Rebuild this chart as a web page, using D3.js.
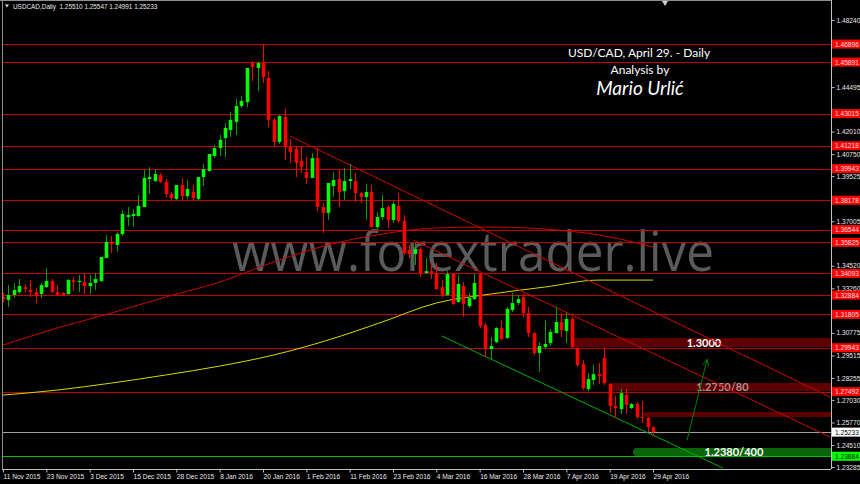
<!DOCTYPE html>
<html><head><meta charset="utf-8">
<script src="https://cdn.jsdelivr.net/npm/d3@7"></script>
<style>body{margin:0;background:#000}svg{display:block}</style>
</head><body><svg id="c" width="860" height="484"></svg>
<script>
// ---------- DATA ----------
const dateLabels = ["11 Nov 2015","23 Nov 2015","3 Dec 2015","15 Dec 2015","28 Dec 2015","8 Jan 2016","20 Jan 2016","1 Feb 2016","11 Feb 2016","23 Feb 2016","4 Mar 2016","16 Mar 2016","28 Mar 2016","7 Apr 2016","19 Apr 2016","29 Apr 2016"];
const dateLabelBars = [0,8,16,24,32,40,48,56,64,72,80,88,96,104,112,120];
// visible price tick labels (the ones covered by level labels are drawn as tick marks only)
const priceTicks = [1.48240,1.44495,1.42010,1.40750,1.39525,1.37005,1.34520,1.33260,1.30775,1.29515,1.28255,1.27030,1.25770,1.24510,1.23285];
const hiddenTicks = [1.46985,1.45740,1.43250,1.38265,1.35765,1.32020];

const open = [1.3277,1.3261,1.3289,1.3305,1.3333,1.3317,1.3305,1.3294,1.3333,1.3367,1.3305,1.3300,1.3294,1.3372,1.3361,1.3361,1.3339,1.3356,1.3367,1.3495,
1.3585,1.3568,1.3629,1.3724,1.3730,1.3730,1.3780,1.3936,1.3925,1.3959,1.3920,1.3853,1.3825,1.3903,1.3841,1.3864,1.3825,1.3947,1.3981,1.4065,
1.4109,1.4165,1.4210,1.4255,1.4344,1.4366,1.4584,1.4556,1.4584,1.4500,1.4266,1.4143,1.4283,1.4115,1.4104,1.4037,1.3975,1.3942,1.4053,1.3780,
1.3747,1.3897,1.3936,1.3869,1.3925,1.3925,1.3858,1.3836,1.3864,1.3668,1.3724,1.3780,1.3708,1.3786,1.3702,1.3540,1.3518,1.3545,1.3411,1.3422,
1.3411,1.3333,1.3289,1.3406,1.3250,1.3339,1.3227,1.3266,1.3406,1.3121,1.2987,1.3026,1.3104,1.3049,1.3205,1.3244,1.3277,1.3188,1.3076,1.2965,
1.2998,1.3020,1.3076,1.3138,1.3088,1.3155,1.2993,1.2903,1.2764,1.2814,1.2847,1.2937,1.2792,1.2669,1.2652,1.2730,1.2658,1.2680,1.2608,1.2602,
1.25510];
const high = [1.3300,1.3344,1.3356,1.3378,1.3350,1.3372,1.3328,1.3356,1.3439,1.3378,1.3344,1.3305,1.3378,1.3389,1.3400,1.3411,1.3400,1.3411,1.3501,1.3624,
1.3618,1.3640,1.3763,1.3780,1.3769,1.3847,1.3987,1.4003,1.3992,1.3970,1.3936,1.3864,1.3903,1.3942,1.3931,1.3903,1.3947,1.4020,1.4076,1.4126,
1.4182,1.4249,1.4310,1.4383,1.4400,1.4556,1.4595,1.4590,1.4690,1.4539,1.4277,1.4294,1.4327,1.4160,1.4121,1.4115,1.4059,1.4081,1.4109,1.3802,
1.3914,1.3975,1.3987,1.3998,1.4020,1.3970,1.3864,1.3908,1.3903,1.3752,1.3847,1.3791,1.3813,1.3858,1.3735,1.3568,1.3579,1.3557,1.3495,1.3467,
1.3467,1.3372,1.3422,1.3411,1.3400,1.3361,1.3300,1.3406,1.3411,1.3132,1.3054,1.3110,1.3149,1.3222,1.3300,1.3289,1.3294,1.3222,1.3082,1.3026,
1.3149,1.3099,1.3222,1.3188,1.3188,1.3166,1.2998,1.2926,1.2853,1.2898,1.2909,1.2998,1.2797,1.2725,1.2764,1.2764,1.2686,1.2691,1.2697,1.2608,
1.25547];
const low = [1.3250,1.3222,1.3272,1.3294,1.3305,1.3277,1.3244,1.3272,1.3328,1.3300,1.3283,1.3283,1.3289,1.3311,1.3305,1.3294,1.3294,1.3317,1.3361,1.3495,
1.3523,1.3529,1.3618,1.3674,1.3668,1.3724,1.3780,1.3853,1.3920,1.3914,1.3836,1.3819,1.3819,1.3813,1.3825,1.3819,1.3819,1.3897,1.3975,1.4053,
1.4065,1.4059,1.4171,1.4182,1.4333,1.4338,1.4483,1.4428,1.4472,1.4227,1.4115,1.4132,1.4042,1.4026,1.3947,1.3970,1.3908,1.3942,1.3758,1.3635,
1.3708,1.3836,1.3780,1.3819,1.3880,1.3808,1.3802,1.3708,1.3668,1.3652,1.3708,1.3663,1.3691,1.3691,1.3512,1.3495,1.3456,1.3389,1.3411,1.3378,
1.3317,1.3277,1.3283,1.3233,1.3244,1.3166,1.3216,1.3261,1.3104,1.2943,1.2931,1.3020,1.3037,1.3043,1.3194,1.3233,1.3166,1.3054,1.2954,1.2859,
1.2987,1.3004,1.3076,1.3054,1.3020,1.2993,1.2887,1.2758,1.2752,1.2786,1.2792,1.2786,1.2630,1.2602,1.2624,1.2624,1.2652,1.2597,1.2574,1.2524,
1.24991];
const close = [1.3266,1.3289,1.3317,1.3339,1.3322,1.3305,1.3283,1.3344,1.3367,1.3305,1.3289,1.3289,1.3372,1.3361,1.3367,1.3339,1.3356,1.3378,1.3501,1.3585,
1.3573,1.3629,1.3741,1.3735,1.3741,1.3786,1.3942,1.3947,1.3964,1.3920,1.3853,1.3830,1.3903,1.3841,1.3880,1.3830,1.3947,1.3992,1.4076,1.4109,
1.4154,1.4221,1.4266,1.4344,1.4372,1.4556,1.4562,1.4584,1.4506,1.4266,1.4143,1.4288,1.4115,1.4087,1.4026,1.4003,1.3942,1.4053,1.3780,1.3747,
1.3914,1.3931,1.3864,1.3925,1.3936,1.3858,1.3836,1.3864,1.3668,1.3724,1.3774,1.3708,1.3797,1.3702,1.3523,1.3518,1.3545,1.3411,1.3422,1.3411,
1.3322,1.3289,1.3406,1.3239,1.3350,1.3239,1.3272,1.3356,1.3115,1.2987,1.3004,1.3104,1.3043,1.3211,1.3244,1.3266,1.3188,1.3076,1.2965,1.3004,
1.3015,1.3082,1.3138,1.3093,1.3155,1.2998,1.2898,1.2769,1.2819,1.2847,1.2836,1.2797,1.2669,1.2658,1.2741,1.2675,1.2680,1.2608,1.2602,1.2551,
1.25233];

// moving averages sampled every 10 bars
const maBars   = [0,10,20,30,40,50,60,70,80,90,100,110,120];
const maRed    = [1.3009,1.3104,1.3188,1.3277,1.3361,1.3473,1.3568,1.3629,1.3663,1.3668,1.3657,1.3624,1.3557];
const maYellow = [1.2730,1.2758,1.2797,1.2842,1.2892,1.2954,1.3037,1.3138,1.3244,1.3294,1.3333,1.3372,1.3372];

// horizontal levels
const redLevels = [1.46896,1.45891,1.43015,1.41218,1.39943,1.38178,1.36544,1.35825,1.34093,1.32884,1.31805,1.29943,1.27492];
const greenLevel = 1.23884;
const bidLevel = 1.25233;

// trend lines [bar1, price1, bar2, price2]
const upperRed = [53.0,1.4176,152.7,1.2719];
const lowerRed = [75.7,1.3596,152.7,1.2496];
const greenTrend = [81.0,1.3060,132.9,1.2323];
const arrowLine = [126.3,1.2479,130.0,1.2930];

// zones: [startBar, topPrice, bottomPrice, label]
const zoneRed1 = [105.2,1.3049,1.2998,"1.3000"];
const zoneRed2 = [112.0,1.2797,1.2752,"1.2750/80"];
const zoneRed3 = [118.2,1.2635,1.2608,""];
const zoneGreen = [116.3,1.2434,1.2390,"1.2380/400"];

// ---------- DRAW ----------
const svg = d3.select("#c");
const plotL = 3, plotR = 831, plotT = 1, plotB = 469;
const x = d3.scaleLinear().domain([0,120]).range([3,653]);
const y = d3.scaleLinear().domain([1.23285,1.48240]).range([467,20]);
const axisFont = "Liberation Sans, Arial, sans-serif";

svg.append("rect").attr("width",860).attr("height",484).attr("fill","#000");
svg.append("defs").append("clipPath").attr("id","clip").append("rect")
  .attr("x",plotL).attr("y",plotT).attr("width",plotR-plotL).attr("height",plotB-plotT);
const g = svg.append("g").attr("clip-path","url(#clip)");

// watermark
g.append("text").attr("x",232).attr("y",271).text("www.forextrader.live")
  .attr("font-family","Open Sans, sans-serif").attr("font-size",55)
  .attr("textLength",482).attr("lengthAdjust","spacingAndGlyphs")
  .attr("fill","#7a7a7a").attr("fill-opacity",0.75);

// zones
function zone(z, fill, textFill){
  const x0 = x(z[0]), y0 = y(z[1]), y1 = y(z[2]);
  g.append("rect").attr("x",x0).attr("y",y0).attr("width",plotR+6-x0).attr("height",y1-y0)
    .attr("rx",4).attr("fill",fill);
  if (z[3]) g.append("text").attr("x",(x0+plotR)/2+2).attr("y",(y0+y1)/2+4).text(z[3])
    .attr("text-anchor","middle").attr("font-family","Lato, sans-serif").attr("font-weight","bold")
    .attr("font-size",11).attr("fill",textFill);
}
zone(zoneRed1,"#5e0000","#ffffff");
zone(zoneRed2,"#5e0000","#b89090");
zone(zoneRed3,"#5e0000","#fff");
zone(zoneGreen,"#0a640a","#ffffff");

// horizontal lines
redLevels.forEach(p=>{
  g.append("line").attr("x1",plotL).attr("x2",plotR).attr("y1",Math.round(y(p))+0.5).attr("y2",Math.round(y(p))+0.5)
   .attr("stroke","#c00000").attr("stroke-width",1);
});
g.append("line").attr("x1",plotL).attr("x2",plotR).attr("y1",Math.round(y(bidLevel))+0.5).attr("y2",Math.round(y(bidLevel))+0.5)
  .attr("stroke","#a0a0a0");
g.append("line").attr("x1",plotL).attr("x2",plotR).attr("y1",Math.round(y(greenLevel))+0.5).attr("y2",Math.round(y(greenLevel))+0.5)
  .attr("stroke","#00c000");

// moving averages
const maLine = d3.line().x((d,i)=>x(maBars[i])).y(d=>y(d)).curve(d3.curveMonotoneX);
g.append("path").attr("d",maLine(maRed)).attr("fill","none").attr("stroke","#d00000").attr("stroke-width",1);
g.append("path").attr("d",maLine(maYellow)).attr("fill","none").attr("stroke","#d8d800").attr("stroke-width",1);

// trend lines
function tline(t,color,w){
  g.append("line").attr("x1",x(t[0])).attr("y1",y(t[1])).attr("x2",x(t[2])).attr("y2",y(t[3]))
   .attr("stroke",color).attr("stroke-width",w||1);
}
tline(upperRed,"#d00000");
tline(lowerRed,"#d00000");
tline(greenTrend,"#00b000");
tline(arrowLine,"#008000");
// arrowhead at the top of the arrow line
{
  const x1 = x(arrowLine[0]), y1 = y(arrowLine[1]), x2 = x(arrowLine[2]), y2 = y(arrowLine[3]);
  const ang = Math.atan2(y2-y1, x2-x1), L = 7;
  [0.45,-0.45].forEach(a=>{
    g.append("line").attr("x1",x2).attr("y1",y2)
      .attr("x2",x2 - L*Math.cos(ang+a)).attr("y2",y2 - L*Math.sin(ang+a))
      .attr("stroke","#008000");
  });
}

// candles
const bw = 3.6;
open.forEach((o,i)=>{
  const c = close[i], up = c >= o;
  const cx = Math.round(x(i))+0.5;
  g.append("line").attr("x1",cx).attr("x2",cx).attr("y1",y(high[i])).attr("y2",y(low[i]))
    .attr("stroke", up ? "#00a000" : "#ff0000");
  const yt = y(Math.max(o,c)), yb = y(Math.min(o,c));
  g.append("rect").attr("x",cx-bw/2).attr("y",yt).attr("width",bw).attr("height",Math.max(1,yb-yt))
    .attr("fill", up ? "#00ff00" : "#ff0000");
});

// frame
svg.append("line").attr("x1",2.5).attr("x2",2.5).attr("y1",0).attr("y2",plotB).attr("stroke","#909090");
svg.append("line").attr("x1",0).attr("x2",plotR).attr("y1",0.5).attr("y2",0.5).attr("stroke","#909090");
// chart-shift marker
svg.append("path").attr("d","M662,1L668,1L665,6Z").attr("fill","#d0d0d0");

// right axis
const ya = d3.axisRight(y).tickValues(priceTicks.concat(hiddenTicks)).tickSize(3)
  .tickFormat(d => priceTicks.includes(d) ? d3.format(".5f")(d) : "");
const yg = svg.append("g").attr("transform",`translate(${plotR+0.5},0)`).call(ya);
yg.select(".domain").attr("stroke","#c0c0c0").attr("d",`M0,0V${plotB}`);
yg.selectAll(".tick line").attr("stroke","#c0c0c0");
yg.selectAll("text").attr("fill","#e8e8e8").attr("font-family",axisFont).attr("font-size",6.6).attr("x",5);

// bottom axis
const xa = d3.axisBottom(x).tickValues(dateLabelBars).tickSize(3).tickFormat((d,i)=>dateLabels[i]);
const xg = svg.append("g").attr("transform",`translate(0,${plotB+0.5})`).call(xa);
xg.select(".domain").attr("stroke","#c0c0c0").attr("d",`M2,0H${plotR}`);
xg.selectAll(".tick line").attr("stroke","#c0c0c0");
xg.selectAll("text").attr("fill","#e8e8e8").attr("font-family",axisFont).attr("font-size",6.6)
  .attr("text-anchor","start").attr("x",0).attr("y",5).attr("dy","0.71em");

// right price labels
function priceLabel(p, bg, fg){
  const yy = y(p);
  svg.append("rect").attr("x",plotR+1).attr("y",yy-4.5).attr("width",29).attr("height",9).attr("fill",bg);
  svg.append("text").attr("x",plotR+4).attr("y",yy+2.5).text(p.toFixed(5))
    .attr("font-family",axisFont).attr("font-size",6.6).attr("fill",fg);
}
redLevels.forEach(p=>priceLabel(p,"#ff0000","#ffe0e0"));
priceLabel(bidLevel,"#ffffff","#000000");
priceLabel(greenLevel,"#00ff00","#000000");

// header
svg.append("path").attr("d","M5,4.5L9,4.5L7,7.5Z").attr("fill","#e0e0e0");
svg.append("text").attr("x",13).attr("y",9).text("USDCAD,Daily  1.25510 1.25547 1.24991 1.25233")
  .attr("font-family",axisFont).attr("font-size",6.4).attr("fill","#e8e8e8").attr("xml:space","preserve");

// title
const tFont = "Lato, Open Sans, sans-serif";
svg.append("text").attr("x",639).attr("y",57).attr("text-anchor","middle").text("USD/CAD, April 29. - Daily")
  .attr("font-family",tFont).attr("font-size",12).attr("fill","#fff");
svg.append("text").attr("x",640).attr("y",74).attr("text-anchor","middle").text("Analysis by")
  .attr("font-family",tFont).attr("font-size",12).attr("fill","#fff");
svg.append("text").attr("x",640).attr("y",95).attr("text-anchor","middle").text("Mario Urlić")
  .attr("font-family",tFont).attr("font-style","italic").attr("font-size",19).attr("fill","#fff");
</script></body></html>
